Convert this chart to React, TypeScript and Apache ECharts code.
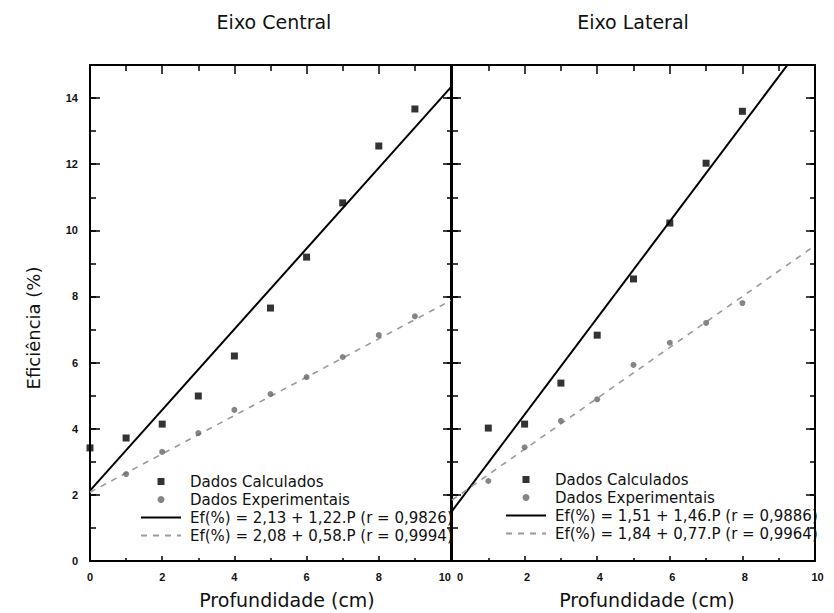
import React, { useEffect, useRef } from "react";
import * as echarts from "echarts";

// ---- Data ----
const panelTitles = ["Eixo Central", "Eixo Lateral"];
const xAxisName = "Profundidade (cm)";
const yAxisName = "Eficiência (%)";
const seriesCalcName = "Dados Calculados";
const seriesExpName = "Dados Experimentais";

// Eixo Central
const depthCalcCentral = [0, 1, 2, 3, 4, 5, 6, 7, 8, 9];
const calcCentral = [3.42, 3.72, 4.14, 4.99, 6.2, 7.65, 9.19, 10.83, 12.55, 13.67];
const depthExpCentral = [1, 2, 3, 4, 5, 6, 7, 8, 9];
const expCentral = [2.63, 3.3, 3.87, 4.57, 5.05, 5.56, 6.17, 6.83, 7.4];
const fitX = [0, 10];
const fitCalcCentral = [2.13, 14.33];
const fitExpCentral = [2.08, 7.88];
const fitCalcCentralName = "Ef(%) = 2,13 + 1,22.P (r = 0,9826)";
const fitExpCentralName = "Ef(%) = 2,08 + 0,58.P (r = 0,9994)";

// Eixo Lateral
const depthCalcLateral = [1, 2, 3, 4, 5, 6, 7, 8];
const calcLateral = [4.02, 4.14, 5.38, 6.83, 8.53, 10.22, 12.03, 13.6];
const depthExpLateral = [1, 2, 3, 4, 5, 6, 7, 8];
const expLateral = [2.42, 3.44, 4.24, 4.89, 5.93, 6.6, 7.2, 7.8];
const fitCalcLateral = [1.51, 16.11];
const fitExpLateral = [1.84, 9.54];
const fitCalcLateralName = "Ef(%) = 1,51 + 1,46.P (r = 0,9886)";
const fitExpLateralName = "Ef(%) = 1,84 + 0,77.P (r = 0,9964)";

const X_MIN = 0;
const X_MAX = 10;
const Y_MIN = 0;
const Y_MAX = 15;

const pairs = (xs: number[], ys: number[]) => xs.map((x, i) => [x, ys[i]]);

const SQUARE_ICON = "path://M0,0L10,0L10,10L0,10Z";
const NAME_FONT = "DejaVu Sans";
const TICK_FONT = "Liberation Sans";
const TICK_COLOR = "#000";

export default function App() {
  const ref = useRef<HTMLDivElement>(null);

  useEffect(() => {
    if (!ref.current) return;
    const chart = echarts.init(ref.current, undefined, { renderer: "svg" });

    const axisLine = { show: true, onZero: false, lineStyle: { color: "#000", width: 2 } };
    const tickLabel = {
      fontFamily: TICK_FONT,
      fontSize: 11,
      fontWeight: "bold" as const,
      color: "#111",
    };
    const tickLine = { color: TICK_COLOR, width: 1.5 };

    const xAxis = (gridIndex: number, position: "top" | "bottom", showLabel: boolean, major: number, minor: number, align?: "min" | "max") => ({
      type: "value",
      gridIndex,
      position,
      min: X_MIN,
      max: X_MAX,
      interval: 2,
      axisLine,
      axisTick: { show: true, inside: true, length: major, lineStyle: tickLine },
      minorTick: { show: true, splitNumber: 2, length: minor, lineStyle: tickLine },
      splitLine: { show: false },
      minorSplitLine: { show: false },
      axisLabel: showLabel
        ? {
            ...tickLabel,
            margin: 10,
            hideOverlap: false,
            showMinLabel: true,
            showMaxLabel: true,
            ...(align === "max" ? { alignMaxLabel: "right" } : {}),
            ...(align === "min" ? { alignMinLabel: "left", padding: [0, 0, 0, 5] } : {}),
          }
        : { show: false },
    });

    const yMajor = (gridIndex: number, position: "left" | "right", showLabel: boolean, len: number) => ({
      type: "value",
      gridIndex,
      position,
      min: Y_MIN,
      max: Y_MAX,
      interval: 2,
      axisLine,
      axisTick: { show: true, inside: true, length: len, lineStyle: tickLine },
      splitLine: { show: false },
      axisLabel: showLabel ? { ...tickLabel, margin: 12, showMinLabel: true, showMaxLabel: false } : { show: false },
    });

    const yMinor = (gridIndex: number, position: "left" | "right", len: number) => ({
      type: "value",
      gridIndex,
      position,
      min: Y_MIN,
      max: Y_MAX,
      interval: 1,
      axisLine: { show: false, onZero: false },
      axisTick: { show: true, inside: true, length: len, lineStyle: tickLine },
      splitLine: { show: false },
      axisLabel: { show: false },
    });

    const scatterCalc = (xi: number, yi: number, xs: number[], ys: number[]) => ({
      name: seriesCalcName,
      type: "scatter",
      xAxisIndex: xi,
      yAxisIndex: yi,
      symbol: "rect",
      symbolSize: 7,
      itemStyle: { color: "#000" },
      data: pairs(xs, ys),
      z: 3,
    });
    const scatterExp = (xi: number, yi: number, xs: number[], ys: number[]) => ({
      name: seriesExpName,
      type: "scatter",
      xAxisIndex: xi,
      yAxisIndex: yi,
      symbol: "circle",
      symbolSize: 6,
      itemStyle: { color: "#666" },
      data: pairs(xs, ys),
      z: 3,
    });
    const fitLine = (name: string, xi: number, yi: number, ys: number[], dashed: boolean) => ({
      name,
      type: "line",
      xAxisIndex: xi,
      yAxisIndex: yi,
      showSymbol: false,
      symbol: "none",
      clip: true,
      lineStyle: dashed
        ? { color: "#9a9a9a", width: 1.6, type: [6, 6] }
        : { color: "#000", width: 2 },
      itemStyle: { color: dashed ? "#9a9a9a" : "#000" },
      data: pairs(fitX, ys),
      z: 2,
    });

    const hiddenSymbol = { color: "rgba(0,0,0,0)", borderColor: "rgba(0,0,0,0)", borderWidth: 0, opacity: 0 };

    const legendBase = {
      orient: "vertical",
      itemWidth: 40,
      itemHeight: 7,
      itemGap: 1,
      selectedMode: false,
      padding: 0,
      textStyle: { fontFamily: NAME_FONT, fontSize: 15, lineHeight: 17, color: "#111", padding: [0, 0, 0, 4] },
    };

    const nameText = (text: string, x: number, y: number, size: number, rotation = 0) => ({
      type: "text",
      x,
      y,
      rotation,
      style: {
        text,
        fontFamily: NAME_FONT,
        fontSize: size,
        fill: "#111",
        align: "center",
        verticalAlign: "middle",
      },
    });

    chart.setOption({
      animation: false,
      backgroundColor: "#fff",
      grid: [
        { left: 90, right: 383, top: 65, bottom: 52, containLabel: false },
        { left: 452, right: 19, top: 65, bottom: 52, containLabel: false },
      ],
      xAxis: [
        xAxis(0, "bottom", true, 5, 3, "max"),
        xAxis(0, "top", false, 9, 6),
        xAxis(1, "bottom", true, 5, 3, "min"),
        xAxis(1, "top", false, 9, 6),
      ],
      yAxis: [
        yMajor(0, "left", true, 10),
        yMinor(0, "left", 6),
        yMajor(0, "right", false, 8),
        yMinor(0, "right", 4),
        yMajor(1, "left", false, 9),
        yMinor(1, "left", 6),
        yMajor(1, "right", false, 9),
        yMinor(1, "right", 5),
      ],
      legend: [
        {
          ...legendBase,
          left: 140,
          top: 473,
          data: [
            { name: seriesCalcName, icon: SQUARE_ICON },
            { name: seriesExpName, icon: "circle" },
            { name: fitCalcCentralName, itemStyle: hiddenSymbol },
            { name: fitExpCentralName, itemStyle: hiddenSymbol },
          ],
        },
        {
          ...legendBase,
          left: 505,
          top: 471,
          data: [
            { name: seriesCalcName, icon: SQUARE_ICON },
            { name: seriesExpName, icon: "circle" },
            { name: fitCalcLateralName, itemStyle: hiddenSymbol },
            { name: fitExpLateralName, itemStyle: hiddenSymbol },
          ],
        },
      ],
      series: [
        fitLine(fitCalcCentralName, 0, 0, fitCalcCentral, false),
        fitLine(fitExpCentralName, 0, 0, fitExpCentral, true),
        scatterCalc(0, 0, depthCalcCentral, calcCentral),
        scatterExp(0, 0, depthExpCentral, expCentral),
        fitLine(fitCalcLateralName, 2, 4, fitCalcLateral, false),
        fitLine(fitExpLateralName, 2, 4, fitExpLateral, true),
        scatterCalc(2, 4, depthCalcLateral, calcLateral),
        scatterExp(2, 4, depthExpLateral, expLateral),
      ],
      graphic: [
        nameText(panelTitles[0], 274, 22, 19),
        nameText(panelTitles[1], 633, 22, 19),
        nameText(xAxisName, 287, 600, 19),
        nameText(xAxisName, 647, 600, 19),
        nameText(yAxisName, 33, 328, 18, Math.PI / 2),
      ],
    });

    return () => chart.dispose();
  }, []);

  return (
    <div
      ref={ref}
      style={{ position: "absolute", left: 0, top: 0, width: 834, height: 613, background: "#fff" }}
    />
  );
}
